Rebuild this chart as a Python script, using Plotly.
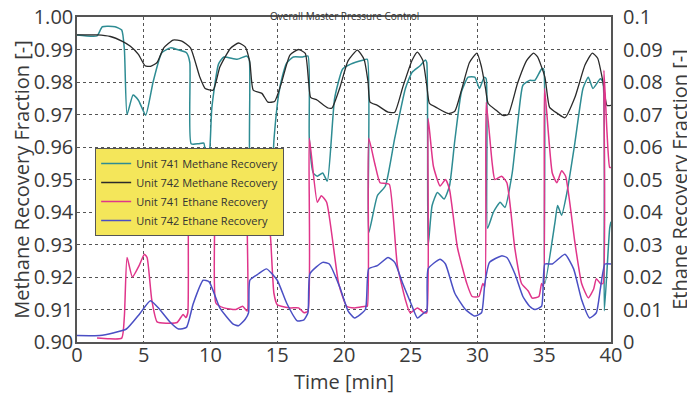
import plotly.graph_objects as go
from plotly.subplots import make_subplots

# ---------------- data ----------------
time_741_methane = [0, 1.5, 1.9, 2.85, 3.35, 3.55, 3.75, 4.2, 4.6, 5.15,
                    5.7, 6.35, 7.0, 7.5, 8.2, 8.45, 8.55, 9.1, 9.5, 9.7,
                    9.85, 10.1, 10.6, 11.0, 12.0, 12.7, 12.9, 13.0, 13.7, 14.45,
                    14.75, 15.1, 15.4, 15.7, 16.2, 16.9, 17.3, 17.4, 17.7, 18.0,
                    18.4, 18.75, 19.3, 19.9, 20.5, 21.4, 21.75, 21.85, 22.5, 23.1,
                    23.8, 24.6, 25.1, 25.7, 26.1, 26.2, 26.3, 26.6, 27.0, 27.5,
                    27.9, 28.3, 28.8, 29.3, 29.8, 30.15, 30.5, 30.65, 30.75, 31.2,
                    31.7, 32.05, 32.6, 33.05, 33.4, 33.9, 34.3, 34.8, 34.95, 35.05,
                    35.8, 36.0, 36.3, 36.7, 37.3, 37.9, 38.3, 38.65, 39.2, 39.4,
                    39.5, 39.9, 40]
unit741_methane = [0.9945, 0.9942, 0.997, 0.997, 0.996, 0.990, 0.970, 0.976, 0.9744, 0.9698,
                   0.980, 0.989, 0.9905, 0.990, 0.989, 0.986, 0.961, 0.961, 0.9612, 0.955,
                   0.955, 0.972, 0.9855, 0.9877, 0.987, 0.988, 0.987, 0.950, 0.945, 0.940,
                   0.962, 0.976, 0.982, 0.9858, 0.9877, 0.9877, 0.988, 0.9627, 0.952, 0.951,
                   0.952, 0.9495, 0.975, 0.984, 0.9855, 0.9867, 0.987, 0.9336, 0.945, 0.948,
                   0.9627, 0.978, 0.983, 0.985, 0.9868, 0.986, 0.9296, 0.942, 0.946, 0.944,
                   0.948, 0.962, 0.977, 0.9815, 0.9815, 0.978, 0.9815, 0.981, 0.935, 0.940,
                   0.943, 0.9414, 0.952, 0.9688, 0.979, 0.9805, 0.9805, 0.984, 0.984, 0.918,
                   0.9367, 0.942, 0.939, 0.946, 0.9614, 0.978, 0.9815, 0.978, 0.981, 0.980,
                   0.9096, 0.935, 0.937]

time_742_methane = [0, 1.5, 2.5, 3.4, 4.0, 4.6, 5.1, 5.5, 6.0, 6.5,
                    7.2, 7.85, 8.5, 9.2, 9.6, 10.2, 10.7, 11.5, 12.1, 12.6,
                    12.95, 13.2, 13.85, 14.3, 14.8, 15.3, 15.95, 16.6, 17.1, 17.35,
                    17.5, 18.0, 18.8, 19.1, 19.7, 20.3, 21.0, 21.5, 21.8, 21.95,
                    22.5, 23.3, 23.8, 24.4, 25.1, 25.5, 25.9, 26.2, 26.4, 26.9,
                    27.8, 28.3, 28.8, 29.4, 29.96, 30.3, 30.6, 30.8, 31.4, 31.9,
                    32.3, 33.0, 33.7, 34.2, 34.5, 35.05, 35.4, 36.0, 36.55, 37.3,
                    38.05, 38.6, 39.0, 39.4, 39.7, 40]
unit742_methane = [0.9945, 0.9945, 0.994, 0.9925, 0.991, 0.9885, 0.985, 0.9848, 0.986, 0.9905,
                   0.9929, 0.9926, 0.9905, 0.9815, 0.978, 0.9775, 0.9846, 0.9904, 0.992, 0.9908,
                   0.986, 0.9775, 0.9765, 0.9738, 0.974, 0.9795, 0.9883, 0.990, 0.9888, 0.980,
                   0.9753, 0.9744, 0.972, 0.972, 0.9784, 0.9865, 0.9898, 0.987, 0.980, 0.9738,
                   0.9728, 0.9707, 0.9707, 0.9784, 0.9867, 0.9892, 0.9867, 0.979, 0.9734, 0.9722,
                   0.9703, 0.971, 0.9775, 0.986, 0.9889, 0.9846, 0.978, 0.9734, 0.9713, 0.9697,
                   0.970, 0.9796, 0.9867, 0.9889, 0.9877, 0.9815, 0.9722, 0.9703, 0.969, 0.9753,
                   0.9852, 0.9889, 0.9873, 0.980, 0.9728, 0.9728]

time_741_ethane = [1.5, 2.3, 3.35, 3.55, 3.75, 4.15, 4.65, 5.05, 5.25, 5.6,
                   6.0, 6.7, 7.5, 7.95, 8.15, 8.3, 8.4, 8.9, 9.2, 9.5,
                   10.1, 10.3, 10.4, 11.0, 11.9, 12.4, 12.75, 12.85, 13.5, 14.2,
                   14.5, 14.75, 15.0, 15.3, 16.0, 16.6, 17.0, 17.3, 17.4, 18.0,
                   18.3, 18.7, 19.6, 20.2, 20.8, 21.6, 21.75, 21.85, 22.3, 22.7,
                   23.1, 23.4, 24.0, 24.6, 24.95, 25.5, 26.0, 26.2, 26.3, 26.7,
                   27.2, 27.6, 27.9, 28.5, 29.2, 29.6, 30.1, 30.4, 30.55, 30.65,
                   31.1, 31.3, 31.8, 32.2, 32.8, 33.3, 33.8, 34.1, 34.6, 34.8,
                   34.95, 35.02, 35.6, 35.95, 36.3, 36.6, 37.3, 37.8, 38.3, 38.7,
                   38.9, 39.2, 39.4, 39.47, 39.7, 39.9, 40]
unit741_ethane = [0.0012, 0.001, 0.0012, 0.008, 0.026, 0.020, 0.0235, 0.027, 0.026, 0.013,
                  0.0062, 0.0058, 0.006, 0.0085, 0.0075, 0.009, 0.045, 0.038, 0.0345, 0.037,
                  0.045, 0.040, 0.012, 0.0105, 0.010, 0.011, 0.0095, 0.050, 0.048, 0.044,
                  0.032, 0.015, 0.0115, 0.011, 0.0105, 0.0105, 0.009, 0.0095, 0.0627, 0.043,
                  0.045, 0.043, 0.018, 0.011, 0.0105, 0.011, 0.011, 0.0627, 0.055, 0.049,
                  0.0488, 0.0485, 0.0235, 0.013, 0.009, 0.0105, 0.009, 0.009, 0.0688, 0.054,
                  0.048, 0.050, 0.047, 0.029, 0.018, 0.014, 0.014, 0.018, 0.017, 0.0738,
                  0.055, 0.050, 0.051, 0.049, 0.0287, 0.018, 0.0157, 0.0135, 0.014, 0.018,
                  0.017, 0.078, 0.052, 0.049, 0.0527, 0.051, 0.0305, 0.018, 0.0136, 0.0163,
                  0.0195, 0.018, 0.018, 0.0836, 0.0645, 0.0537, 0.0537]

time_742_ethane = [0, 1.7, 2.7, 3.7, 4.7, 5.5, 6.2, 7.0, 7.6, 8.2,
                   8.7, 9.45, 9.9, 10.7, 11.7, 12.1, 12.6, 12.85, 12.95, 13.6,
                   14.2, 15.0, 15.7, 16.5, 17.0, 17.3, 17.45, 18.4, 18.9, 19.7,
                   20.3, 20.8, 21.6, 21.85, 22.5, 23.3, 23.8, 24.4, 25.1, 25.5,
                   26.0, 26.2, 26.3, 27.2, 27.6, 28.3, 29.1, 29.8, 30.3, 30.55,
                   30.9, 31.8, 32.2, 32.8, 33.4, 33.9, 34.3, 34.8, 35.05, 35.6,
                   36.55, 37.2, 37.8, 38.4, 38.9, 39.2, 39.55, 40]
unit742_ethane = [0.002, 0.002, 0.0028, 0.004, 0.0087, 0.0127, 0.010, 0.006, 0.004, 0.0045,
                  0.0117, 0.019, 0.0185, 0.0105, 0.0055, 0.005, 0.007, 0.009, 0.019, 0.021,
                  0.0225, 0.019, 0.012, 0.0065, 0.0068, 0.009, 0.021, 0.0245, 0.024, 0.0167,
                  0.0096, 0.0074, 0.010, 0.0225, 0.0235, 0.026, 0.0245, 0.018, 0.011, 0.0074,
                  0.009, 0.0095, 0.0225, 0.0255, 0.024, 0.015, 0.010, 0.008, 0.009, 0.018,
                  0.0245, 0.0265, 0.026, 0.021, 0.014, 0.011, 0.010, 0.011, 0.024, 0.024,
                  0.027, 0.0225, 0.013, 0.0074, 0.009, 0.0163, 0.024, 0.024]

series_names = ["Unit 741 Methane Recovery", "Unit 742 Methane Recovery",
                "Unit 741 Ethane Recovery", "Unit 742 Ethane Recovery"]
x_ticks = [0, 5, 10, 15, 20, 25, 30, 35, 40]

# ---------------- figure ----------------
fig = make_subplots(specs=[[{"secondary_y": True}]])

colors = ["#2e8c93", "#2a2a2a", "#e0358a", "#4a4fc4"]

def line(color, width):
    return dict(color=color, width=width, shape="spline", smoothing=0.5)

fig.add_trace(go.Scatter(x=time_741_methane, y=unit741_methane, mode="lines",
                         name=series_names[0], line=line(colors[0], 1.5)),
              secondary_y=False)
fig.add_trace(go.Scatter(x=time_742_methane, y=unit742_methane, mode="lines",
                         name=series_names[1], line=line(colors[1], 1.3)),
              secondary_y=False)
fig.add_trace(go.Scatter(x=time_741_ethane, y=unit741_ethane, mode="lines",
                         name=series_names[2], line=line(colors[2], 1.5)),
              secondary_y=True)
fig.add_trace(go.Scatter(x=time_742_ethane, y=unit742_ethane, mode="lines",
                         name=series_names[3], line=line(colors[3], 1.5)),
              secondary_y=True)

axis_font = dict(family="Open Sans", size=20, color="#3a3a3a")
grid = dict(showgrid=True, gridcolor="#555555", griddash="dot", gridwidth=1)

# the page body adds an 8 px offset, margins compensate for it
fig.update_layout(
    width=695, height=398,
    margin=dict(l=69, r=92, t=9, b=64, autoexpand=False),
    plot_bgcolor="white", paper_bgcolor="white",
    font=dict(family="Open Sans", color="#3a3a3a"),
    legend=dict(x=0.034, y=0.597, xanchor="left", yanchor="top",
                bgcolor="#f4e65a", bordercolor="#555555", borderwidth=1,
                font=dict(family="Open Sans", size=11, color="#333333"),
                itemwidth=30, tracegroupgap=0),
    annotations=[dict(text="Overall Master Pressure Control", xref="paper", yref="paper",
                      x=0.5, y=1.0277, xanchor="center", yanchor="top", showarrow=False,
                      borderpad=0,
                      font=dict(family="Open Sans", size=10, color="#333333"))],
)

fig.update_xaxes(domain=[0, 1], range=[0, 40], tickvals=x_ticks, tickfont=axis_font,
                 automargin=False, ticklabelstandoff=-6, ticklabeloverflow="allow",
                 title=dict(text="Time [min]", font=axis_font, standoff=6),
                 showline=True, linecolor="#555555", linewidth=1.5, mirror=True,
                 ticks="", ticklen=0, zeroline=False, **grid)
fig.update_yaxes(range=[0.90, 1.00], dtick=0.01, tickformat=".2f", tickfont=axis_font,
                 automargin=False, ticklabelstandoff=-2, ticklabeloverflow="allow",
                 title=dict(text="Methane Recovery Fraction [-]", font=axis_font, standoff=4),
                 showline=True, linecolor="#555555", linewidth=1.5, mirror=True,
                 ticks="", ticklen=0, zeroline=False, secondary_y=False, **grid)
fig.update_yaxes(range=[0, 0.1], dtick=0.01, tickfont=axis_font, automargin=False,
                 ticklabeloverflow="allow",
                 title=dict(text="Ethane Recovery Fraction [-]", font=axis_font, standoff=10),
                 showgrid=False, zeroline=False, ticks="", ticklen=0, ticklabelstandoff=11,
                 secondary_y=True)

fig.write_html("out.html")
